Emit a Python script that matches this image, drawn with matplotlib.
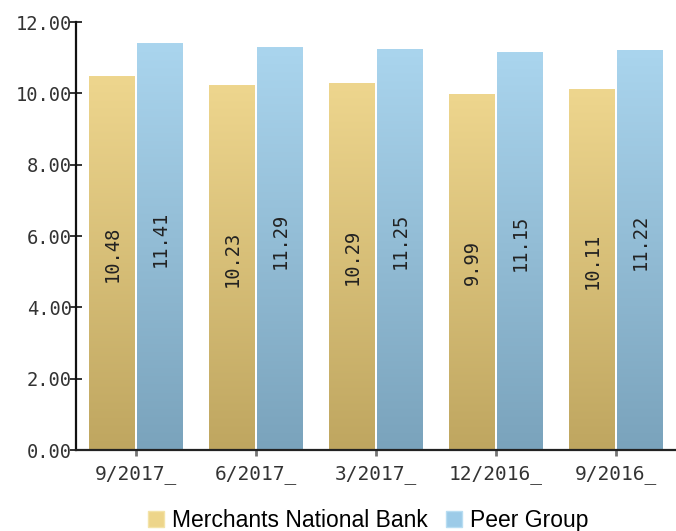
import matplotlib
matplotlib.use("Agg")
import matplotlib.pyplot as plt
import numpy as np
from matplotlib.patches import Patch
from matplotlib.colors import LinearSegmentedColormap

categories = ["9/2017_", "6/2017_", "3/2017_", "12/2016_", "9/2016_"]
merchants = [10.48, 10.23, 10.29, 9.99, 10.11]
peer = [11.41, 11.29, 11.25, 11.15, 11.22]
series_names = ["Merchants National Bank", "Peer Group"]
yticks = [0, 2, 4, 6, 8, 10, 12]

gold_top, gold_bot = "#EED68E", "#BFA660"
blue_top, blue_bot = "#AAD5EE", "#7AA3BC"

mono = "DejaVu Sans Mono"

fig = plt.figure(figsize=(6.76, 5.31), dpi=100)
ax = fig.add_axes([76/676, 81/531, 600/676, 428/531])
ax.set_xlim(-0.5, len(categories) - 0.5)
ax.set_ylim(0, 12)

w = 0.383
gap = 0.017
x = np.arange(len(categories))

def grad_bar(xc, h, top, bot):
    bars = ax.bar(xc, h, width=w, color="none", edgecolor="none", zorder=2)
    b = bars[0]
    cmap = LinearSegmentedColormap.from_list("g", [bot, top])
    grad = np.linspace(0, 1, 256).reshape(-1, 1)
    im = ax.imshow(grad, cmap=cmap, aspect="auto", origin="lower",
                   extent=[xc - w/2, xc + w/2, 0, h], zorder=2)
    im.set_clip_path(b)
    return b

for i in range(len(categories)):
    xm = x[i] - w/2 - gap/2
    xp = x[i] + w/2 + gap/2
    grad_bar(xm, merchants[i], gold_top, gold_bot)
    grad_bar(xp, peer[i], blue_top, blue_bot)
    ax.text(xm, merchants[i] * 0.525, f"{merchants[i]:.2f}", rotation=90,
            ha="center", va="center", fontsize=13.5, family=mono,
            color="#222222", zorder=3)
    ax.text(xp, peer[i] * 0.52, f"{peer[i]:.2f}", rotation=90,
            ha="center", va="center", fontsize=13.5, family=mono,
            color="#222222", zorder=3)

ax.set_xlim(-0.5, len(categories) - 0.5)
ax.set_ylim(0, 12)
ax.set_yticks(yticks)
ax.set_yticklabels([f"{v:.2f}" for v in yticks], family=mono)
ax.set_xticks(x)
ax.set_xticklabels(categories, family=mono)

for s in ["top", "right"]:
    ax.spines[s].set_visible(False)
ax.spines["left"].set_linewidth(1.6)
ax.spines["bottom"].set_linewidth(1.6)
ax.spines["left"].set_color("#111111")
ax.spines["bottom"].set_color("#222222")

ax.tick_params(axis="y", direction="inout", length=8, width=1.2, colors="#111111",
               labelsize=13.5, labelcolor="#333333", pad=-1)
ax.tick_params(axis="x", direction="out", length=4, width=2, color="#777777",
               labelsize=14, labelcolor="#333333", pad=7)

handles = [Patch(facecolor="#EDD58A", edgecolor="#F3E3A8"),
           Patch(facecolor="#9CCBE8", edgecolor="#B8DDF2")]
fig.legend(handles, series_names, loc="lower center", bbox_to_anchor=(0.545, -0.04),
           ncol=2, frameon=False, prop={"family": "Liberation Sans", "size": 16.5},
           handlelength=0.7, handleheight=0.7, handletextpad=0.35, columnspacing=0.8)

fig.savefig("out.png", dpi=100)
